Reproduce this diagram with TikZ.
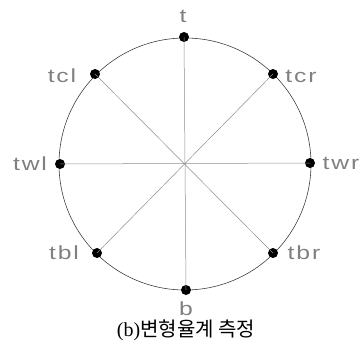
\documentclass[tikz,border=0pt]{standalone}
\usepackage{fontspec}
\setmainfont{Liberation Serif}
\setsansfont{Liberation Sans}
\newfontfamily\lblfont[FakeStretch=1.3,LetterSpace=10]{Liberation Sans}
\newfontfamily\kofont{Noto Sans CJK KR}
\begin{document}
\begin{tikzpicture}[x=1pt,y=-1pt,
  pt/.style={circle,fill=black,inner sep=0pt,minimum size=10pt},
  lbl/.style={font=\lblfont\fontsize{19}{19}\selectfont,text=black!50,inner sep=0pt},
  spoke/.style={draw=black!45,line width=0.5pt},
  rim/.style={draw=black!75,line width=0.6pt}]
\useasboundingbox (0,0) rectangle (361,353);
\coordinate (c) at (185,164);
\draw[rim] (c) circle (126);
\node[pt] (t) at (184,37) {};
\node[pt] (tcl) at (95,74) {};
\node[pt] (tcr) at (273,74) {};
\node[pt] (twl) at (60,164) {};
\node[pt] (twr) at (310,163) {};
\node[pt] (tbl) at (97,253) {};
\node[pt] (tbr) at (273,253) {};
\node[pt] (b) at (186,290) {};
\draw[spoke] (t.center) -- (b.center);
\draw[spoke] (twl.center) -- (twr.center);
\draw[spoke] (tcl.center) -- (tbr.center);
\draw[spoke] (tcr.center) -- (tbl.center);
\node[lbl] (lt) at (183,16) {t};
\node[lbl] (ltcl) at (62,76) {tcl};
\node[lbl] (ltcr) at (301,76) {tcr};
\node[lbl] (ltwl) at (30,164) {twl};
\node[lbl] (ltwr) at (341,163) {twr};
\node[lbl] (ltbl) at (64,253) {tbl};
\node[lbl] (ltbr) at (304,253) {tbr};
\node[lbl] (lb) at (186,309) {b};
\node[inner sep=0pt,font=\fontsize{20}{20}\selectfont] (cap) at (186,330) {(b)\kofont 변형율계 측정};
\end{tikzpicture}
\end{document}
